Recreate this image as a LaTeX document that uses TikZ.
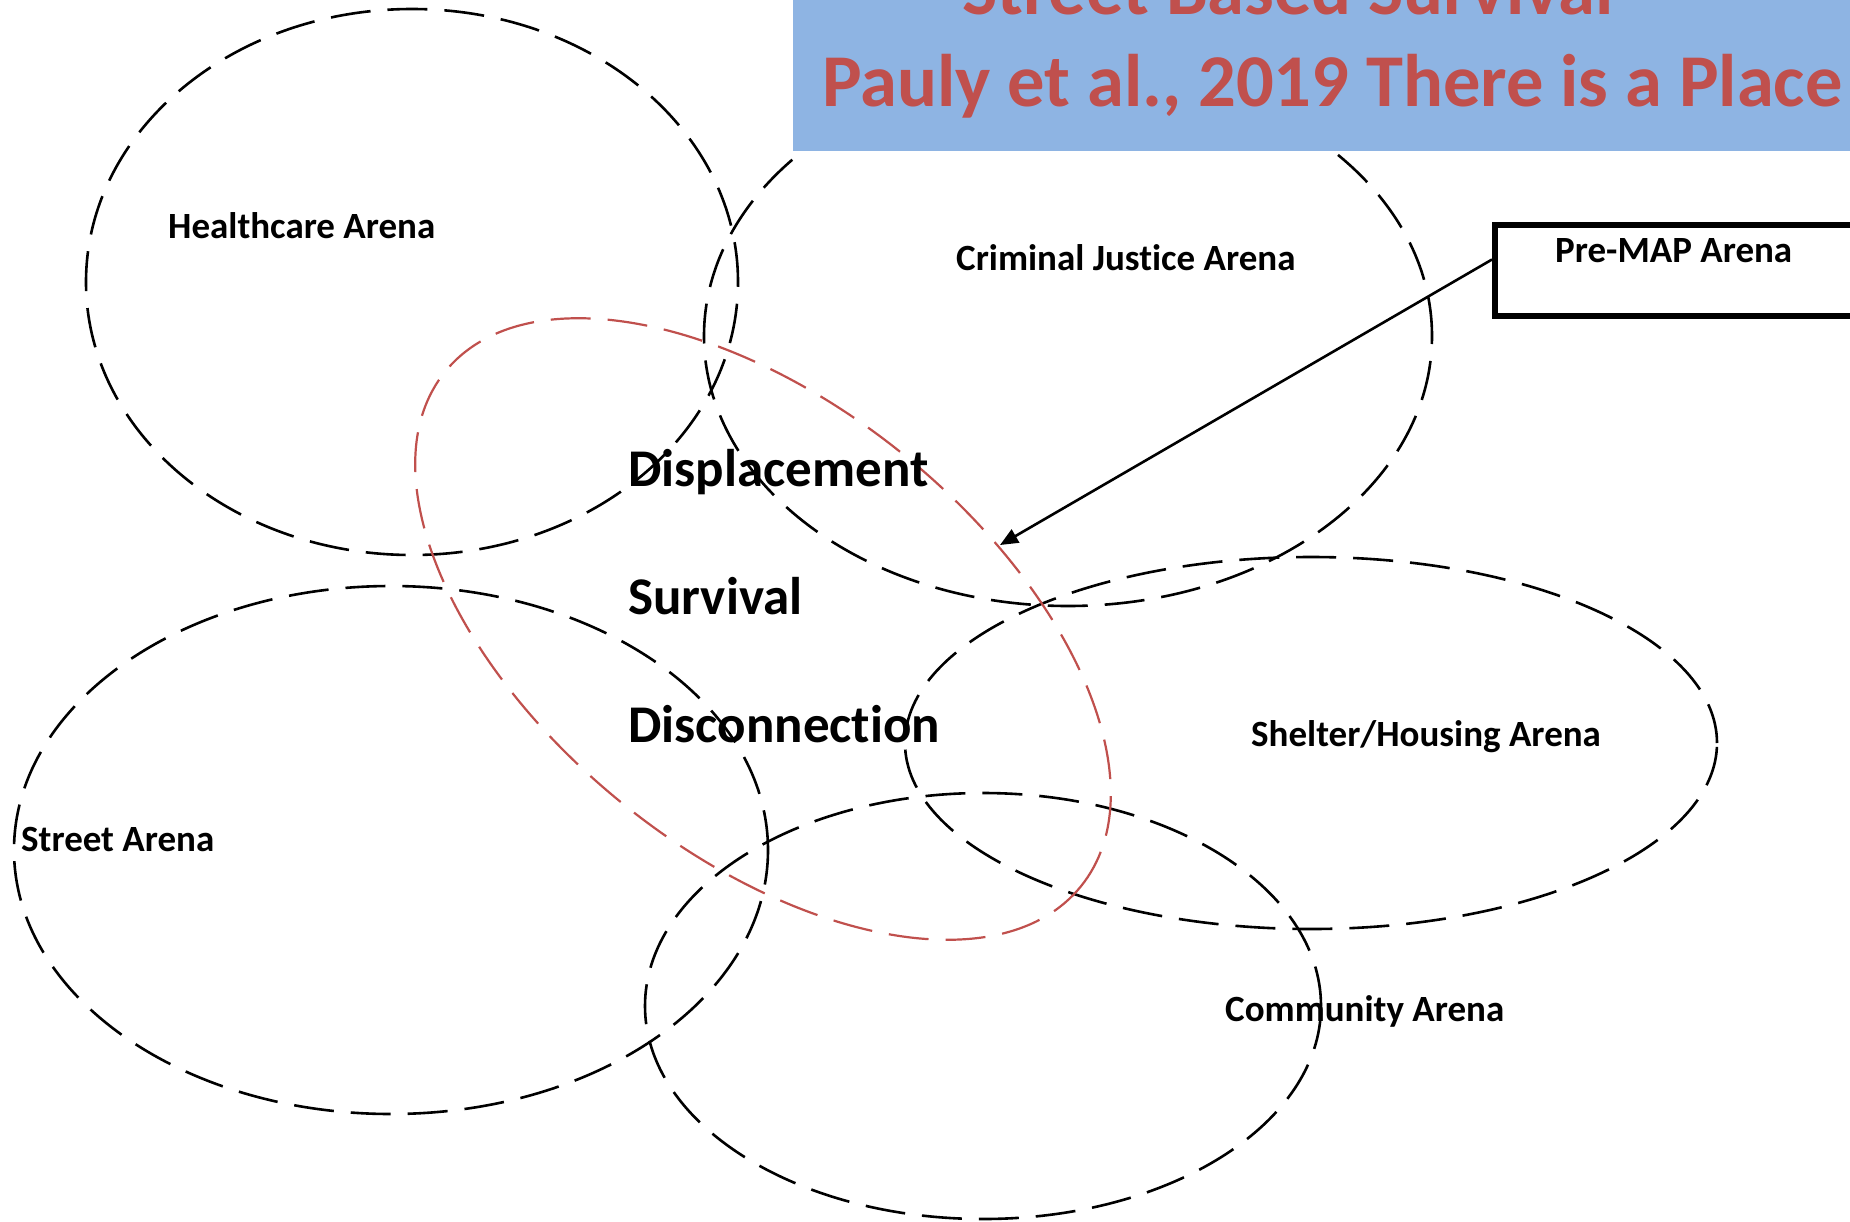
\documentclass[tikz,border=0pt]{standalone}
\usepackage{fontspec}
\setmainfont{Carlito}[RawFeature=-liga]
\usetikzlibrary{arrows.meta}
\definecolor{titleblue}{HTML}{8EB4E3}
\definecolor{titlered}{HTML}{C0504D}
\tikzset{
 arena/.style={draw=black,line width=2.6pt,dash pattern=on 40pt off 17pt},
 core/.style={draw=titlered,line width=2.2pt,dash pattern=on 40pt off 17pt},
 arenalabel/.style={font=\fontsize{37}{44}\selectfont\bfseries,inner sep=0pt,anchor=base west},
 themelabel/.style={font=\fontsize{53}{64}\selectfont\bfseries,inner sep=0pt,anchor=base west},
 titletext/.style={font=\fontsize{74.5}{90}\selectfont\bfseries,text=titlered,inner sep=0pt,anchor=base west},
 pointer/.style={line width=2.6pt,-{Triangle[length=18pt,width=15pt]}},
}
\begin{document}
\begin{tikzpicture}[x=1pt,y=1pt]
 \useasboundingbox (0,0) rectangle (1850,-1221);
 \clip (0,0) rectangle (1850,-1221);
 %% arenas: centre x/y, radii
 \foreach \cx/\cy/\rx/\ry in {412/282/326/273,1068/336/364/270,391/850/377/264,1311/743/406/186,983/1006/338/213}{
   \draw[arena] (\cx,-\cy) ellipse [x radius=\rx, y radius=\ry];}
 %% core ring
 \draw[core,rotate around={-39:(763,-629)}] (763,-629) ellipse [x radius=409, y radius=224];
 %% title banner
 \fill[titleblue] (793,0) rectangle (1850,-151);
 \node[titletext] (title1) at (962,-14) {Street Based Survival};
 \node[titletext] (title2) at (822,-106) {Pauly et al., 2019 There is a Place};
 %% arena labels
 \node[arenalabel] (health) at (168,-238) {Healthcare Arena};
 \node[arenalabel] (justice) at (956,-270) {Criminal Justice Arena};
 \node[arenalabel] (shelter) at (1251,-746) {Shelter/Housing Arena};
 \node[arenalabel] (street) at (21,-851) {Street Arena};
 \node[arenalabel] (community) at (1225,-1021) {Community Arena};
 %% themes
 \node[themelabel] (displace) at (628,-486) {Displacement};
 \node[themelabel] (survive) at (628,-614) {Survival};
 \node[themelabel] (disconnect) at (628,-742) {Disconnection};
 %% pre-MAP box and arrow
 \node[draw,line width=6pt,minimum width=420pt,minimum height=91pt,anchor=north west,inner sep=0pt] (premapbox) at (1492,-222) {};
 \node[arenalabel] (premap) at (1555,-262) {Pre-MAP Arena};
 \coordinate (tip) at (1000,-545);
 \draw[pointer] ([yshift=11pt]premapbox.west) -- (tip);
\end{tikzpicture}
\end{document}
